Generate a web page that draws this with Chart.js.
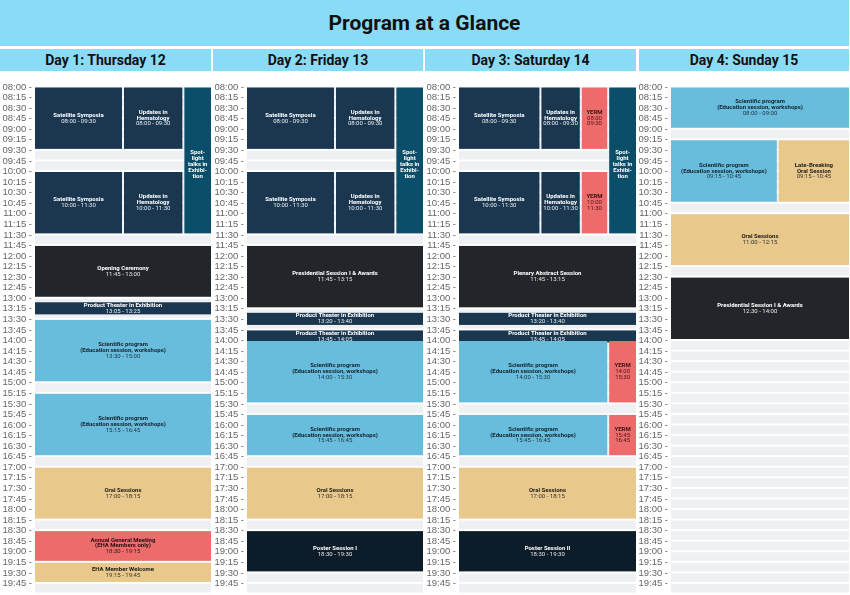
<!DOCTYPE html>
<html>
<head>
<meta charset="utf-8">
<script src="https://cdn.jsdelivr.net/npm/chart.js@4/dist/chart.umd.min.js"></script>
<style>
html,body{margin:0;padding:0;width:850px;height:595px;overflow:hidden;background:#ffffff;}
#title{position:absolute;left:0;top:0;width:849px;height:46px;background:#8adbf5;color:#111;
  font:700 21px Roboto, sans-serif;display:flex;align-items:center;justify-content:center;}
.dayhead{position:absolute;top:49px;height:22px;background:#8adbf5;color:#111;
  font:700 14px Roboto, sans-serif;display:flex;align-items:center;justify-content:center;}
canvas{position:absolute;top:75px;}
</style>
</head>
<body>
<div id="title">Program at a Glance</div>
<div id="heads"></div>
<div id="charts"></div>
<script>
// ---------------- DATA ----------------
const dayTitles = ["Day 1: Thursday 12", "Day 2: Friday 13", "Day 3: Saturday 14", "Day 4: Sunday 15"];

const tickLabels = [
  "08:00","08:15","08:30","08:45","09:00","09:15","09:30","09:45",
  "10:00","10:15","10:30","10:45","11:00","11:15","11:30","11:45",
  "12:00","12:15","12:30","12:45","13:00","13:15","13:30","13:45",
  "14:00","14:15","14:30","14:45","15:00","15:15","15:30","15:45",
  "16:00","16:15","16:30","16:45","17:00","17:15","17:30","17:45",
  "18:00","18:15","18:30","18:45","19:00","19:15","19:30","19:45"
];

const sessionDay = [
  1,1,1,1,1,1,1,1,1,1,1,1,
  2,2,2,2,2,2,2,2,2,2,2,2,
  3,3,3,3,3,3,3,3,3,3,3,3,3,3,3,3,
  4,4,4,4,4
];
const sessionTitle = [
  "Satellite Symposia","Updates in\nHematology","Satellite Symposia","Updates in\nHematology",
  "Spot-\nlight\ntalks in\nExhibi-\ntion","Opening Ceremony","Product Theater in Exhibition",
  "Scientific program\n(Education session, workshops)","Scientific program\n(Education session, workshops)",
  "Oral Sessions","Annual General Meeting\n(EHA Members only)","EHA Member Welcome",

  "Satellite Symposia","Updates in\nHematology","Satellite Symposia","Updates in\nHematology",
  "Spot-\nlight\ntalks in\nExhibi-\ntion","Presidential Session I & Awards","Product Theater in Exhibition",
  "Product Theater in Exhibition","Scientific program\n(Education session, workshops)",
  "Scientific program\n(Education session, workshops)","Oral Sessions","Poster Session I",

  "Satellite Symposia","Updates in\nHematology","YERM","Satellite Symposia","Updates in\nHematology","YERM",
  "Spot-\nlight\ntalks in\nExhibi-\ntion","Plenary Abstract Session","Product Theater in Exhibition",
  "Product Theater in Exhibition","Scientific program\n(Education session, workshops)","YERM",
  "Scientific program\n(Education session, workshops)","YERM","Oral Sessions","Poster Session II",

  "Scientific program\n(Education session, workshops)","Scientific program\n(Education session, workshops)",
  "Late-Breaking\nOral Session","Oral Sessions","Presidential Session I & Awards"
];
const sessionStart = [
  "08:00","08:00","10:00","10:00","08:00","11:45","13:05","13:30","15:15","17:00","18:30","19:15",
  "08:00","08:00","10:00","10:00","08:00","11:45","13:20","13:45","14:00","15:45","17:00","18:30",
  "08:00","08:00","08:00","10:00","10:00","10:00","08:00","11:45","13:20","13:45","14:00","14:00","15:45","15:45","17:00","18:30",
  "08:00","09:15","09:15","11:00","12:30"
];
const sessionEnd = [
  "09:30","09:30","11:30","11:30","11:30","13:00","13:25","15:00","16:45","18:15","19:15","19:45",
  "09:30","09:30","11:30","11:30","11:30","13:15","13:40","14:05","15:30","16:45","18:15","19:30",
  "09:30","09:30","09:30","11:30","11:30","11:30","11:30","13:15","13:40","14:05","15:30","15:30","16:45","16:45","18:15","19:30",
  "09:00","10:45","10:45","12:15","14:00"
];
const sessionTrack = [
  "sat","upd","sat","upd","spot","full","full","full","full","full","full","full",
  "sat","upd","sat","upd","spot","full","full","full","full","full","full","full",
  "sat3","upd3","yerm3","sat3","upd3","yerm3","spot","full","full","full","main","side","main","side","full","full",
  "full","left","right","full","full"
];
const sessionKind = [
  "navy","navy","navy","navy","spot","plenary","navy","sci","sci","oral","coral","oral",
  "navy","navy","navy","navy","spot","plenary","navy","navy","sci","sci","oral","poster",
  "navy","navy","yerm","navy","navy","yerm","spot","plenary","navy","navy","sci","yerm","sci","yerm","oral","poster",
  "sci","sci","oral","oral","plenary"
];

// ---------------- LAYOUT / STYLE ----------------
const laneSpan = {
  full:[0,1], sat:[0,0.5], upd:[0.5,0.843], spot:[0.843,1],
  sat3:[0,0.46], upd3:[0.46,0.688], yerm3:[0.688,0.843],
  main:[0,0.843], side:[0.843,1], left:[0,0.6], right:[0.6,1]
};
const kindStyle = {
  navy:   {fill:"#1b3750", text:"#ffffff", sub:"#e8eef3"},
  spot:   {fill:"#0a4e69", text:"#ffffff", sub:"#ffffff"},
  plenary:{fill:"#22262b", text:"#ffffff", sub:"#e6e6e6"},
  poster: {fill:"#0c1c29", text:"#ffffff", sub:"#e6e6e6"},
  sci:    {fill:"#69bddc", text:"#13222e", sub:"#1d3444"},
  oral:   {fill:"#e8c98b", text:"#1a1a1a", sub:"#333333"},
  coral:  {fill:"#ee6b6c", text:"#1e1212", sub:"#2e1a1a"},
  yerm:   {fill:"#ee6b6c", text:"#3d1010", sub:"#4a1616"}
};
const canvasBoxes = [[0,211],[212,211],[424,212],[636,213]];
const headBoxes = [[0,211],[213,210],[425,211],[639,210]];

const toMin = s => { const p = s.split(":"); return (+p[0]) * 60 + (+p[1]); };

headBoxes.forEach((b, i) => {
  const d = document.createElement("div");
  d.className = "dayhead";
  d.style.left = b[0] + "px";
  d.style.width = b[1] + "px";
  d.textContent = dayTitles[i];
  document.getElementById("heads").appendChild(d);
});

const schedulePlugin = {
  id: "schedule",
  beforeDatasetsDraw(chart) {
    const day = chart.options.plugins.schedule.day;
    const {ctx, chartArea, scales} = chart;
    const xs = scales.x, ys = scales.y;
    ctx.save();
    ctx.fillStyle = "#eef0f3";
    tickLabels.forEach(l => {
      const t = toMin(l);
      const y0 = ys.getPixelForValue(t) + 0.5;
      const y1 = ys.getPixelForValue(t + 15) - 1.5;
      ctx.fillRect(chartArea.left, y0, chartArea.right - chartArea.left, y1 - y0);
    });
    const items = [];
    for (let i = 0; i < sessionStart.length; i++) {
      if (sessionDay[i] !== day) continue;
      const span = laneSpan[sessionTrack[i]];
      const x0 = xs.getPixelForValue(span[0]) + (span[0] > 0 ? 1 : 0);
      const x1 = xs.getPixelForValue(span[1]) - (span[1] < 1 ? 1 : 0);
      const y0 = ys.getPixelForValue(toMin(sessionStart[i])) + 0.5;
      const y1 = ys.getPixelForValue(toMin(sessionEnd[i])) - 1.5;
      const st = kindStyle[sessionKind[i]];
      ctx.fillStyle = st.fill;
      ctx.fillRect(x0, y0, x1 - x0, y1 - y0);
      items.push({i, x0, x1, y0, y1, st});
    }
    ctx.textAlign = "center";
    ctx.textBaseline = "middle";
    items.forEach(it => {
      const kind = sessionKind[it.i];
      const lines = sessionTitle[it.i].split("\n").map(t => ({t, bold:true}));
      if (kind === "yerm") {
        lines.push({t:sessionStart[it.i], bold:false});
        lines.push({t:sessionEnd[it.i], bold:false});
      } else if (kind !== "spot") {
        lines.push({t:sessionStart[it.i] + " - " + sessionEnd[it.i], bold:false});
      }
      const lh = 5.8;
      const cx = (it.x0 + it.x1) / 2;
      const cy = (it.y0 + it.y1) / 2 + (kind === "spot" ? 4 : 0);
      let y = cy - (lines.length - 1) * lh / 2;
      lines.forEach(l => {
        ctx.font = (l.bold ? "bold " : "") + "6px Roboto";
        ctx.fillStyle = l.bold ? it.st.text : it.st.sub;
        ctx.fillText(l.t, cx, y);
        y += lh;
      });
    });
    ctx.restore();
  }
};

canvasBoxes.forEach((b, idx) => {
  const c = document.createElement("canvas");
  c.width = b[1];
  c.height = 529;
  c.style.left = b[0] + "px";
  document.getElementById("charts").appendChild(c);
  new Chart(c, {
    type: "scatter",
    data: {datasets: []},
    plugins: [schedulePlugin],
    options: {
      responsive: false,
      animation: false,
      events: [],
      layout: {padding: {top: 12, bottom: 10, left: 0, right: 0}},
      plugins: {legend: {display: false}, tooltip: {enabled: false}, schedule: {day: idx + 1}},
      scales: {
        x: {type: "linear", min: 0, max: 1, display: false},
        y: {
          type: "linear",
          reverse: true,
          min: toMin(tickLabels[0]),
          max: toMin(tickLabels[tickLabels.length - 1]) + 15,
          afterBuildTicks: s => { s.ticks = tickLabels.map(l => ({value: toMin(l)})); },
          afterFit: s => { s.width = 35; },
          grid: {display: false, drawTicks: false},
          border: {display: false},
          ticks: {
            autoSkip: false,
            padding: 3,
            color: "#666666",
            font: {family: "Liberation Sans", size: 9.5},
            callback: (v, i) => tickLabels[i] + " -"
          }
        }
      }
    }
  });
});
</script>
</body>
</html>
